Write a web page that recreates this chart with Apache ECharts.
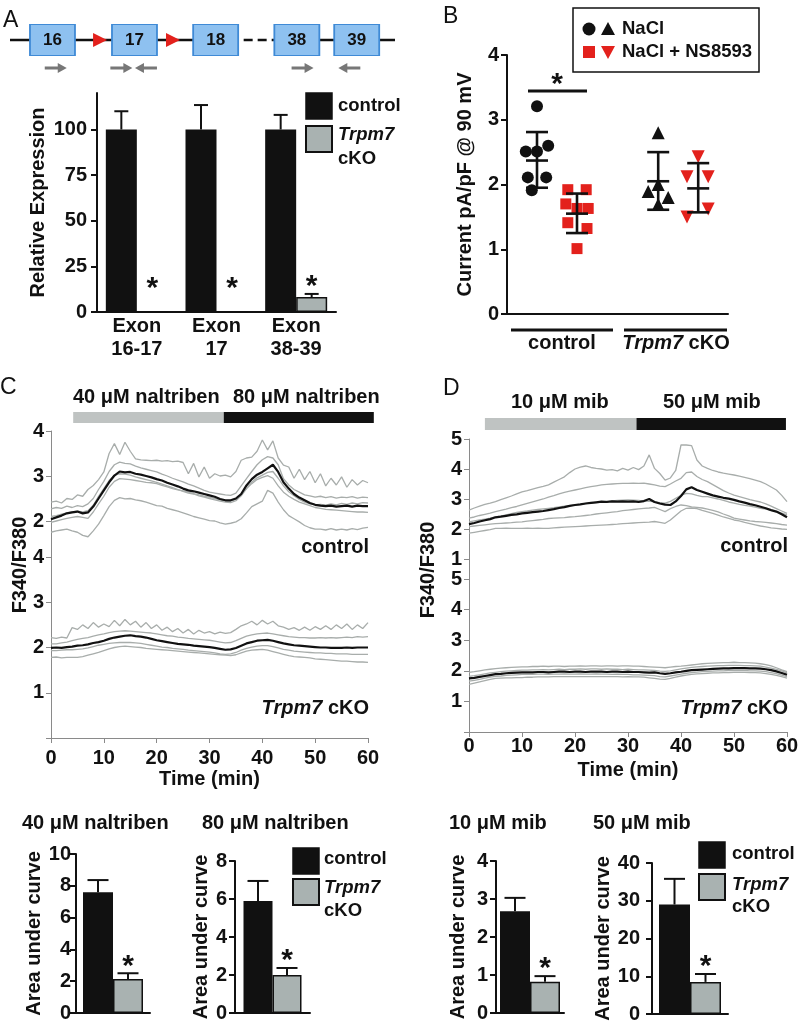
<!DOCTYPE html>
<html><head><meta charset="utf-8">
<script src="https://cdn.jsdelivr.net/npm/echarts@6.0.0/dist/echarts.min.js"></script>
<style>html,body{margin:0;padding:0;background:#fff}#c{width:800px;height:1022px}</style>
</head><body><div id="c"></div>
<script>
// ---------------- DATA ----------------
// Panel A – gene diagram (exon order along schematic)
const exonLabels = ['16', '17', '18', '38', '39'];
const exonPos = [0, 1, 1.99, 2.98, 3.71];
const loxPPos = [0.58, 1.47];
const fwdPrimerPos = [0.04, 0.84, 3.05];
const revPrimerPos = [1.14, 3.62];

// Panel A – relative expression
const exonCats = ['Exon\n16-17', 'Exon\n17', 'Exon\n38-39'];
const relExpControl = [100, 100, 100];
const relExpControlSEM = [10, 13.4, 8];
const relExpCKO = [0, 0, 8.2];
const relExpCKOSEM = [0, 0, 1.7];
const relExpTicks = [0, 25, 50, 75, 100];

// Panel B – current density (pA/pF @ 90 mV)
const bGroupCenters = [0.75, 1.75, 3.78, 4.78];
const ctrlNaCl = [3.21, 2.51, 2.51, 2.60, 2.11, 2.11, 1.91];
const ctrlNaClJitter = [0, -0.28, 0, 0.28, -0.23, 0.23, -0.13];
const ctrlNS = [1.92, 1.92, 1.70, 1.63, 1.63, 1.41, 1.32, 1.01];
const ctrlNSJitter = [-0.23, 0.23, -0.28, 0, 0.28, -0.23, 0.25, 0];
const ckoNaCl = [2.80, 1.89, 2.00, 1.80, 1.69];
const ckoNaClJitter = [0, -0.25, 0, 0.25, 0];
const ckoNS = [2.43, 2.12, 2.12, 1.50, 1.62];
const ckoNSJitter = [0, -0.28, 0.25, -0.28, 0.25];
const bMean = [2.37, 1.55, 2.05, 1.94];
const bSdHigh = [2.81, 1.86, 2.50, 2.33];
const bSdLow = [1.95, 1.25, 1.61, 1.57];

// Panels C / D – time courses (min)
const timeMin = [0,1,2,3,4,5,6,7,8,9,10,11,12,13,14,15,16,17,18,19,20,21,22,23,24,25,26,27,28,29,30,31,32,33,34,35,36,37,38,39,40,41,42,43,44,45,46,47,48,49,50,51,52,53,54,55,56,57,58,59,60];
const cTreatStart = [4.2, 32.7];
const cTreatEnd = [32.7, 61.1];
const dTreatStart = [3.0, 31.6];
const dTreatEnd = [31.6, 59.8];
const dTickValues = [1, 2, 3, 4, 5];

const cCtrlMean = [2.04,2.08,2.12,2.17,2.19,2.21,2.17,2.19,2.32,2.50, 2.68,2.86,3.01,3.10,3.08,3.09,3.05,3.03,3.00,2.97, 2.93,2.90,2.85,2.81,2.77,2.72,2.68,2.66,2.63,2.60, 2.57,2.54,2.49,2.46,2.46,2.50,2.60,2.79,2.93,3.03, 3.09,3.17,3.25,3.09,2.86,2.72,2.60,2.52,2.46,2.40, 2.36,2.34,2.33,2.34,2.32,2.33,2.34,2.32,2.34,2.33, 2.33];
const cCtrlCellA = [2.42,2.44,2.40,2.50,2.48,2.58,2.55,2.70,2.79,2.92, 3.09,3.50,3.72,3.48,3.75,3.55,3.38,3.36,3.35,3.34, 3.35,3.33,3.34,3.32,3.33,3.30,3.05,3.28,2.98,3.20, 2.95,3.05,3.00,3.02,2.98,3.10,3.35,3.40,3.42,3.55, 3.80,3.58,3.78,3.40,3.24,3.20,2.95,3.15,2.92,3.10, 2.85,3.05,2.78,2.95,2.80,2.98,2.75,2.92,2.80,2.90, 2.85];
const cCtrlCellB = [2.27,2.30,2.28,2.33,2.30,2.34,2.32,2.38,2.50,2.70, 2.88,3.10,3.25,3.31,3.28,3.27,3.22,3.18,3.15,3.12, 3.09,3.04,3.00,2.95,2.91,2.87,2.82,2.78,2.73,2.68, 2.64,2.62,2.60,2.58,2.57,2.62,2.78,2.94,3.10,3.25, 3.36,3.43,3.40,3.25,2.94,2.80,2.70,2.64,2.58,2.56, 2.53,2.55,2.52,2.54,2.51,2.53,2.52,2.54,2.51,2.53, 2.52];
const cCtrlCellC = [1.97,2.00,2.03,2.06,2.08,2.10,2.08,2.06,2.20,2.38, 2.55,2.75,2.88,2.94,2.93,2.92,2.90,2.88,2.86,2.85, 2.83,2.79,2.76,2.72,2.69,2.67,2.64,2.61,2.58,2.55, 2.53,2.50,2.47,2.45,2.44,2.48,2.58,2.72,2.83,2.92, 2.97,3.01,2.95,2.78,2.64,2.55,2.48,2.42,2.38,2.34, 2.30,2.28,2.26,2.25,2.24,2.23,2.22,2.21,2.20,2.20, 2.19];
const cCtrlCellD = [1.75,1.78,1.80,1.82,1.78,1.75,1.68,1.65,1.78,1.93, 2.12,2.32,2.46,2.52,2.49,2.50,2.47,2.45,2.42,2.38, 2.34,2.33,2.28,2.25,2.22,2.18,2.14,2.10,2.07,2.04, 2.01,2.00,1.96,1.93,1.95,1.98,2.05,2.18,2.32,2.38, 2.44,2.68,2.62,2.42,2.25,2.12,2.05,1.98,1.90,1.85, 1.82,1.82,1.80,1.83,1.80,1.82,1.80,1.83,1.81,1.84, 1.86];
const cCtrlCellE = [2.10,2.12,2.15,2.18,2.20,2.22,2.20,2.23,2.35,2.55, 2.72,2.90,3.02,3.05,3.04,3.02,2.98,2.95,2.92,2.89, 2.86,2.82,2.78,2.74,2.70,2.66,2.62,2.60,2.56,2.53, 2.50,2.47,2.44,2.42,2.41,2.45,2.56,2.72,2.86,2.96, 3.02,3.08,3.10,2.95,2.78,2.65,2.56,2.48,2.42,2.38, 2.36,2.37,2.35,2.38,2.36,2.39,2.37,2.40,2.38,2.41, 2.40];

const cKoMean = [1.99,2.00,1.99,2.01,2.02,2.04,2.05,2.07,2.10,2.12, 2.15,2.19,2.22,2.24,2.26,2.27,2.25,2.24,2.22,2.19, 2.16,2.14,2.12,2.10,2.08,2.07,2.06,2.04,2.03,2.02, 2.01,1.99,1.97,1.95,1.96,1.99,2.04,2.09,2.12,2.15, 2.16,2.17,2.15,2.12,2.09,2.07,2.05,2.04,2.03,2.02, 2.01,2.00,2.00,1.99,1.99,1.99,2.00,1.99,2.00,2.00, 2.00];
const cKoCellA = [2.22,2.20,2.23,2.21,2.44,2.40,2.50,2.42,2.55,2.45, 2.52,2.46,2.60,2.48,2.62,2.50,2.58,2.45,2.55,2.42, 2.50,2.38,2.45,2.35,2.42,2.32,2.40,2.30,2.38,2.32, 2.35,2.30,2.34,2.31,2.33,2.40,2.48,2.52,2.58,2.50, 2.60,2.52,2.58,2.48,2.45,2.40,2.44,2.38,2.45,2.38, 2.46,2.40,2.48,2.40,2.50,2.42,2.52,2.40,2.50,2.42, 2.55];
const cKoCellB = [2.08,2.08,2.10,2.12,2.15,2.18,2.20,2.22,2.25,2.28, 2.30,2.33,2.35,2.36,2.37,2.36,2.35,2.34,2.33,2.32, 2.30,2.28,2.26,2.25,2.23,2.22,2.20,2.19,2.18,2.17, 2.16,2.14,2.12,2.10,2.11,2.15,2.20,2.25,2.28,2.30, 2.31,2.32,2.30,2.28,2.26,2.24,2.23,2.22,2.22,2.21, 2.21,2.22,2.21,2.22,2.21,2.22,2.23,2.22,2.24,2.23, 2.24];
const cKoCellC = [1.93,1.93,1.94,1.95,1.95,1.96,1.97,1.99,2.02,2.05, 2.07,2.09,2.10,2.11,2.11,2.11,2.10,2.09,2.07,2.05, 2.03,2.01,2.00,1.98,1.97,1.96,1.94,1.93,1.92,1.91, 1.90,1.88,1.86,1.85,1.86,1.89,1.94,1.98,2.01,2.03, 2.04,2.04,2.02,1.99,1.96,1.94,1.92,1.91,1.90,1.89, 1.88,1.88,1.87,1.87,1.86,1.86,1.86,1.85,1.85,1.85, 1.85];
const cKoCellD = [1.78,1.79,1.77,1.78,1.78,1.78,1.80,1.83,1.86,1.89, 1.93,1.97,2.00,2.02,2.03,2.02,2.01,2.00,1.98,1.97, 1.96,1.95,1.94,1.93,1.92,1.91,1.90,1.89,1.88,1.87, 1.86,1.85,1.84,1.83,1.82,1.84,1.88,1.92,1.94,1.95, 1.96,1.94,1.91,1.88,1.85,1.82,1.80,1.79,1.78,1.77, 1.75,1.74,1.73,1.72,1.71,1.70,1.70,1.69,1.68,1.68, 1.67];

const dCtrlMean = [2.16,2.20,2.25,2.29,2.33,2.39,2.41,2.44,2.47,2.49, 2.52,2.54,2.56,2.58,2.60,2.63,2.66,2.70,2.73,2.77, 2.80,2.82,2.85,2.87,2.89,2.91,2.90,2.92,2.91,2.92, 2.91,2.92,2.90,2.93,3.00,2.90,2.85,2.81,2.80,2.92, 3.10,3.32,3.39,3.30,3.24,3.18,3.12,3.08,3.04,3.01, 2.97,2.92,2.88,2.83,2.79,2.74,2.69,2.63,2.58,2.49, 2.39];
const dCtrlCellA = [2.63,2.70,2.76,2.82,2.86,2.91,2.98,3.04,3.10,3.17, 3.24,3.28,3.33,3.38,3.42,3.47,3.56,3.65,3.74,3.88, 4.00,4.06,4.10,4.05,4.02,4.00,3.96,3.98,3.94,4.02, 3.96,4.05,3.98,4.10,4.47,4.02,3.85,3.63,3.70,3.95, 4.80,4.80,4.78,4.30,4.10,4.02,3.95,3.90,3.86,3.83, 3.80,3.76,3.72,3.68,3.63,3.58,3.50,3.40,3.30,3.12, 2.91];
const dCtrlCellB = [2.36,2.40,2.45,2.49,2.53,2.58,2.62,2.66,2.71,2.75, 2.80,2.85,2.90,2.95,3.00,3.06,3.11,3.17,3.22,3.26, 3.30,3.34,3.38,3.41,3.44,3.47,3.49,3.50,3.51,3.52, 3.52,3.53,3.52,3.53,3.50,3.47,3.43,3.41,3.50,3.60, 3.69,3.88,3.90,3.75,3.65,3.58,3.48,3.38,3.28,3.20, 3.13,3.08,3.03,2.98,2.94,2.90,2.84,2.76,2.68,2.60, 2.52];
const dCtrlCellC = [2.24,2.27,2.30,2.33,2.36,2.40,2.43,2.47,2.51,2.55, 2.58,2.60,2.63,2.65,2.67,2.69,2.71,2.74,2.76,2.78, 2.80,2.82,2.85,2.87,2.89,2.91,2.93,2.94,2.95,2.96, 2.97,2.96,2.95,2.93,2.92,2.91,2.88,2.86,2.92,3.02, 3.12,3.19,3.17,3.12,3.08,3.08,3.04,3.00,2.95,2.90, 2.86,2.82,2.79,2.76,2.73,2.69,2.66,2.62,2.58,2.53, 2.47];
const dCtrlCellD = [2.08,2.10,2.12,2.14,2.16,2.18,2.19,2.20,2.21,2.23, 2.24,2.26,2.28,2.30,2.32,2.35,2.36,2.37,2.38,2.40, 2.41,2.43,2.45,2.47,2.50,2.52,2.54,2.56,2.58,2.61, 2.63,2.65,2.67,2.69,2.70,2.72,2.65,2.58,2.68,2.75, 2.80,2.78,2.74,2.72,2.70,2.66,2.62,2.57,2.50,2.44, 2.36,2.33,2.30,2.27,2.25,2.24,2.22,2.20,2.18,2.15, 2.13];
const dCtrlCellE = [1.86,1.89,1.92,1.95,1.98,2.02,2.02,2.03,2.02,2.02, 2.02,2.03,2.02,2.03,2.02,2.02,2.04,2.05,2.06,2.07, 2.08,2.09,2.10,2.11,2.12,2.13,2.14,2.15,2.16,2.18, 2.19,2.20,2.21,2.22,2.23,2.25,2.22,2.19,2.30,2.45, 2.60,2.69,2.70,2.68,2.62,2.57,2.52,2.46,2.40,2.35, 2.30,2.27,2.22,2.18,2.14,2.10,2.07,2.04,2.02,2.00, 1.99];

const dKoMean = [1.75,1.77,1.80,1.83,1.86,1.89,1.90,1.92,1.93,1.94, 1.95,1.95,1.95,1.96,1.96,1.95,1.96,1.97,1.97,1.96, 1.97,1.97,1.96,1.97,1.97,1.97,1.96,1.97,1.97,1.96, 1.97,1.96,1.96,1.95,1.94,1.95,1.92,1.90,1.92,1.95, 1.97,2.00,2.02,2.03,2.04,2.05,2.06,2.07,2.08,2.08, 2.09,2.09,2.09,2.08,2.08,2.07,2.05,2.02,1.98,1.93, 1.87];
const dKoCellA = [1.95,1.97,2.00,2.03,2.05,2.07,2.09,2.10,2.11,2.12, 2.13,2.13,2.14,2.14,2.15,2.14,2.15,2.15,2.14,2.15, 2.15,2.16,2.15,2.16,2.16,2.15,2.16,2.16,2.15,2.16, 2.16,2.15,2.15,2.14,2.13,2.12,2.11,2.10,2.12,2.14, 2.15,2.17,2.19,2.21,2.23,2.24,2.25,2.26,2.27,2.27, 2.28,2.27,2.27,2.26,2.25,2.23,2.20,2.16,2.10,2.03, 1.97];
const dKoCellB = [1.82,1.84,1.87,1.90,1.93,1.95,1.97,1.99,2.00,2.01, 2.02,2.02,2.03,2.03,2.04,2.03,2.04,2.05,2.04,2.05, 2.05,2.06,2.05,2.06,2.06,2.05,2.06,2.05,2.05,2.04, 2.05,2.04,2.03,2.03,2.02,2.01,1.99,1.98,2.00,2.03, 2.06,2.09,2.11,2.13,2.14,2.15,2.16,2.17,2.17,2.18, 2.18,2.18,2.17,2.17,2.16,2.15,2.12,2.09,2.05,2.00, 1.93];
const dKoCellC = [1.66,1.69,1.72,1.76,1.79,1.82,1.83,1.85,1.86,1.87, 1.88,1.88,1.88,1.89,1.89,1.88,1.89,1.89,1.90,1.89, 1.89,1.90,1.89,1.89,1.90,1.89,1.89,1.88,1.89,1.88, 1.88,1.87,1.87,1.86,1.85,1.84,1.81,1.80,1.83,1.86, 1.89,1.92,1.94,1.96,1.97,1.98,1.99,2.00,2.00,2.01, 2.01,2.01,2.01,2.00,2.00,1.99,1.97,1.94,1.91,1.86, 1.81];
const dKoCellD = [1.56,1.60,1.64,1.68,1.72,1.75,1.76,1.77,1.77,1.78, 1.78,1.79,1.79,1.80,1.80,1.80,1.81,1.81,1.81,1.81, 1.81,1.81,1.81,1.81,1.81,1.81,1.81,1.81,1.81,1.80, 1.81,1.80,1.80,1.79,1.77,1.75,1.73,1.72,1.75,1.79, 1.83,1.86,1.88,1.90,1.91,1.92,1.93,1.93,1.94,1.94, 1.95,1.95,1.95,1.94,1.94,1.93,1.91,1.88,1.85,1.81, 1.76];

// Bottom – area under curve
const aucControl = [7.6, 5.9, 2.68, 29.0];
const aucControlSEM = [0.76, 1.05, 0.35, 6.8];
const aucCKO = [2.14, 2.0, 0.82, 8.5];
const aucCKOSEM = [0.36, 0.37, 0.15, 2.1];

// ---------------- STYLE ----------------
const FONT = '"Liberation Sans", Arial, Helvetica, sans-serif';
const INK = '#111111';
const BAR_GRAY = '#a9b2b1';
const TRACE_GRAY = '#a8adab';
const HDR_GRAY = '#bfc3c2';
const RED = '#e3211c';
const BLUE_FILL = '#8ec1f0';
const BLUE_EDGE = '#3f8ad6';
const AX_GRAY = '#8a8a8a';
const STAR_DY = 7;
const ARROW = 'path://M0,3.5L13,3.5L13,0L22,5L13,10L13,6.5L0,6.5Z';

const tickFont = { fontFamily: FONT, fontWeight: 'bold', fontSize: 20, color: INK };
const nameFont = { fontFamily: FONT, fontWeight: 'bold', fontSize: 20, color: INK };

const chart = echarts.init(document.getElementById('c'), null, { renderer: 'canvas' });

function hiddenX(gi, min, max) { return { gridIndex: gi, type: 'value', min, max, show: false }; }
function hiddenY(gi, min, max) { return { gridIndex: gi, type: 'value', min, max, show: false }; }

function traceY(gi, min, max, shown, labelsOff) {
  const y = { gridIndex: gi, type: 'value', min, max,
    axisLine: { show: true, onZero: false, lineStyle: { color: AX_GRAY, width: 1 } },
    axisTick: { show: true, length: 5, lineStyle: { color: AX_GRAY } },
    axisLabel: Object.assign({ show: !labelsOff, margin: 7,
      formatter: v => (shown.indexOf(Math.round(v * 1000) / 1000) >= 0 ? String(v) : '') }, tickFont),
    splitLine: { show: false } };
  if (Number.isInteger(min)) y.interval = 1;
  else { y.axisTick.customValues = shown; y.axisLabel.customValues = shown; }
  return y;
}
function timeX(gi, margin, nameGap) {
  return { gridIndex: gi, type: 'value', min: 0, max: 60, interval: 10,
    axisLine: { show: true, onZero: false, lineStyle: { color: AX_GRAY, width: 1 } },
    axisTick: { show: true, length: 5, lineStyle: { color: AX_GRAY } },
    axisLabel: Object.assign({ margin }, tickFont),
    splitLine: { show: false },
    name: 'Time (min)', nameLocation: 'middle', nameGap, nameTextStyle: nameFont };
}
function barX(gi, data, labelOpts) {
  return { gridIndex: gi, type: 'category', data,
    axisLine: { show: true, lineStyle: { color: INK, width: 2 } },
    axisTick: { show: false },
    axisLabel: labelOpts ? Object.assign({}, tickFont, labelOpts) : { show: false },
    splitLine: { show: false } };
}
function barY(gi, min, max, interval, margin, name, nameGap, custom) {
  const y = { gridIndex: gi, type: 'value', min, max,
    axisLine: { show: true, lineStyle: { color: INK, width: 2 } },
    axisTick: { show: true, length: 6, lineStyle: { color: INK, width: 2 } },
    axisLabel: Object.assign({ margin }, tickFont),
    splitLine: { show: false },
    name, nameLocation: 'middle', nameGap, nameTextStyle: nameFont };
  if (custom) { y.axisTick.customValues = custom; y.axisLabel.customValues = custom; }
  else y.interval = interval;
  return y;
}

function traceSeries(gi, vals, mean) {
  return { type: 'line', xAxisIndex: gi, yAxisIndex: gi, silent: true,
    data: vals.map((v, i) => [timeMin[i], v]), symbol: 'none', showSymbol: false,
    lineStyle: { color: mean ? INK : TRACE_GRAY, width: mean ? 2.2 : 1.3 }, z: mean ? 4 : 2 };
}

function errSeries(gi, vals, sems, side, bw, capW, star) {
  return { type: 'custom', xAxisIndex: gi, yAxisIndex: gi, z: 5, silent: true,
    data: vals.map((v, i) => [i, v, sems[i]]),
    renderItem(params, api) {
      const i = api.value(0), v = api.value(1), s = api.value(2);
      const base = api.coord([i, 0]);
      const top = api.coord([i, v]);
      const et = api.coord([i, v + s]);
      const x = base[0] + side * bw / 2;
      const kids = [];
      if (s > 0) {
        kids.push({ type: 'line', shape: { x1: x, y1: top[1], x2: x, y2: et[1] }, style: { stroke: INK, lineWidth: 2 } });
        kids.push({ type: 'line', shape: { x1: x - capW / 2, y1: et[1], x2: x + capW / 2, y2: et[1] }, style: { stroke: INK, lineWidth: 2 } });
      }
      if (star) kids.push({ type: 'text', x: x, y: Math.min(et[1] - 14, base[1] - 30) + STAR_DY,
        style: { text: '*', fontSize: 30, fontWeight: 'bold', fontFamily: FONT, fill: INK, align: 'center', verticalAlign: 'middle' } });
      return { type: 'group', children: kids };
    } };
}

function barPanel(gi, ctrl, ctrlSem, cko, ckoSem, bw, capW) {
  return [
    { type: 'bar', xAxisIndex: gi, yAxisIndex: gi, data: ctrl, barWidth: bw, barGap: '0%', silent: true, itemStyle: { color: INK }, z: 2 },
    { type: 'bar', xAxisIndex: gi, yAxisIndex: gi, data: cko, barWidth: bw, barGap: '0%', silent: true, itemStyle: { color: BAR_GRAY, borderColor: INK, borderWidth: 1.5 }, z: 2 },
    errSeries(gi, ctrl, ctrlSem, -1, bw, capW, false),
    errSeries(gi, cko, ckoSem, 1, bw, capW, true)
  ];
}

function headerSeries(gi, starts, ends) {
  const cols = [HDR_GRAY, INK];
  return { type: 'custom', xAxisIndex: gi, yAxisIndex: gi, silent: true,
    data: starts.map((s, i) => [s, ends[i], i]),
    renderItem(params, api) {
      const a = api.coord([api.value(0), 1]);
      const b = api.coord([api.value(1), 0]);
      return { type: 'rect', shape: { x: a[0], y: a[1], width: b[0] - a[0], height: b[1] - a[1] }, style: { fill: cols[api.value(2)] } };
    } };
}

function bErr() {
  return { type: 'custom', xAxisIndex: 2, yAxisIndex: 2, z: 6, silent: true,
    data: bGroupCenters.map((c, i) => [c, bMean[i], bSdHigh[i], bSdLow[i]]),
    renderItem(params, api) {
      const m = api.coord([api.value(0), api.value(1)]);
      const h = api.coord([api.value(0), api.value(2)]);
      const l = api.coord([api.value(0), api.value(3)]);
      const hw = 11, st = { stroke: INK, lineWidth: 2.6 };
      return { type: 'group', children: [
        { type: 'line', shape: { x1: m[0], y1: h[1], x2: m[0], y2: l[1] }, style: st },
        { type: 'line', shape: { x1: m[0] - hw, y1: h[1], x2: m[0] + hw, y2: h[1] }, style: st },
        { type: 'line', shape: { x1: m[0] - hw, y1: m[1], x2: m[0] + hw, y2: m[1] }, style: st },
        { type: 'line', shape: { x1: m[0] - hw, y1: l[1], x2: m[0] + hw, y2: l[1] }, style: st }
      ] };
    } };
}

function bPoints(vals, jit, gIdx, symbol, size, color, rot) {
  return { type: 'scatter', xAxisIndex: 2, yAxisIndex: 2, silent: true, symbol, symbolSize: size, symbolRotate: rot || 0,
    itemStyle: { color, opacity: 1 }, z: 4,
    data: vals.map((v, i) => [bGroupCenters[gIdx] + jit[i], v]) };
}

// ---------------- ANNOTATIONS ----------------
function T(x, y, text, o) {
  return { type: 'text', x, y, silent: true, z: 100,
    style: Object.assign({ text, fontFamily: FONT, fontWeight: 'bold', fontSize: 20, fill: INK, align: 'left', verticalAlign: 'middle' }, o || {}) };
}
const ital = { i: { fontStyle: 'italic', fontWeight: 'bold', fontSize: 20, fontFamily: FONT, fill: INK } };
function R(x, y, w, h, fill, lw) {
  return { type: 'rect', silent: true, z: 100, shape: { x, y, width: w, height: h }, style: { fill, stroke: INK, lineWidth: lw } };
}
function L(x1, y1, x2, y2, lw) {
  return { type: 'line', silent: true, z: 100, shape: { x1, y1, x2, y2 }, style: { stroke: INK, lineWidth: lw } };
}
function legend(x, y1, y2, tx, ty) {
  return [
    R(x, y1, 26, 26, INK, 1.5), R(x, y2, 26, 26, BAR_GRAY, 2),
    T(tx, ty[0], 'control', { fontSize: 18.5 }),
    T(tx, ty[1], 'Trpm7', { fontSize: 18.5, fontStyle: 'italic' }),
    T(tx, ty[2], 'cKO', { fontSize: 18.5 })
  ];
}
const letter = { fontWeight: 'normal', fontSize: 23 };
const graphics = [].concat(
  [T(3, 21, 'A', letter), T(443, 17, 'B', letter), T(0, 388, 'C', letter), T(443, 389, 'D', letter)],
  legend(306, 93, 126, 338, [106, 135, 159]),
  [R(573, 8, 186, 64, 'transparent', 1.5),
   { type: 'circle', silent: true, z: 100, shape: { cx: 589, cy: 29, r: 6.5 }, style: { fill: INK } },
   { type: 'polygon', silent: true, z: 100, shape: { points: [[608, 22], [601, 35], [615, 35]] }, style: { fill: INK } },
   T(622, 29, 'NaCl', { fontSize: 18.5 }),
   { type: 'rect', silent: true, z: 100, shape: { x: 583, y: 46, width: 12, height: 12 }, style: { fill: RED } },
   { type: 'polygon', silent: true, z: 100, shape: { points: [[601, 46], [615, 46], [608, 59]] }, style: { fill: RED } },
   T(622, 52, 'NaCl + NS8593', { fontSize: 18.5 }),
   L(528, 91, 587, 91, 3), T(557, 78 + STAR_DY, '*', { fontSize: 30, align: 'center' }),
   L(511, 330, 613, 330, 3), L(624, 330, 727, 330, 3),
   T(562, 343, 'control', { align: 'center' }),
   T(676, 343, '{i|Trpm7} cKO', { align: 'center', rich: ital })],
  [T(73, 397, '40 μM naltriben'), T(233, 397, '80 μM naltriben'),
   T(369, 547, 'control', { align: 'right' }),
   T(369, 708, '{i|Trpm7} cKO', { align: 'right', rich: ital }),
   Object.assign(T(20, 565, 'F340/F380', { align: 'center' }), { rotation: Math.PI / 2 })],
  [T(511, 402, '10 μM mib'), T(663, 402, '50 μM mib'),
   T(788, 546, 'control', { align: 'right' }),
   T(788, 708, '{i|Trpm7} cKO', { align: 'right', rich: ital }),
   Object.assign(T(428, 570, 'F340/F380', { align: 'center' }), { rotation: Math.PI / 2 })],
  [T(22, 823, '40 μM naltriben'), T(202, 823, '80 μM naltriben'), T(449, 823, '10 μM mib'), T(593, 823, '50 μM mib')],
  legend(293, 848, 879, 324, [859, 888, 911]),
  legend(699, 842, 874, 732, [854, 885, 907])
);

// ---------------- OPTION ----------------
const grids = [
  { left: 10, top: 26, width: 385, height: 56 },
  { left: 97, top: 93, width: 239, height: 219 },
  { left: 507, top: 55, width: 221, height: 259 },
  { left: 51, top: 412, width: 317, height: 11 },
  { left: 51, top: 431, width: 317, height: 126 },
  { left: 51, top: 557, width: 317, height: 181 },
  { left: 469, top: 418, width: 318, height: 12 },
  { left: 469, top: 439, width: 318, height: 140 },
  { left: 469, top: 579, width: 318, height: 153 },
  { left: 76, top: 854, width: 74, height: 159 },
  { left: 235, top: 861, width: 75, height: 152 },
  { left: 496, top: 861, width: 68, height: 152 },
  { left: 652, top: 863, width: 76, height: 151 }
].map(g => Object.assign({ containLabel: false, outerBoundsMode: 'none' }, g));

const option = {
  animation: false,
  backgroundColor: '#ffffff',
  textStyle: { fontFamily: FONT },
  grid: grids,
  xAxis: [
    hiddenX(0, -0.518, 4.177),
    barX(1, exonCats, { lineHeight: 23, margin: 3, interval: 0 }),
    { gridIndex: 2, type: 'value', min: 0, max: 5.525, axisLine: { show: true, onZero: false, lineStyle: { color: INK, width: 2 } }, axisTick: { show: false }, axisLabel: { show: false }, splitLine: { show: false } },
    hiddenX(3, 0, 60), hiddenX(4, 0, 60), timeX(5, 10, 31),
    hiddenX(6, 0, 60), hiddenX(7, 0, 60), timeX(8, 4, 28),
    barX(9, ['AUC']), barX(10, ['AUC']), barX(11, ['AUC']), barX(12, ['AUC'])
  ],
  yAxis: [
    { gridIndex: 0, type: 'category', data: ['gene', 'primer'], inverse: true, show: false },
    barY(1, 0, 120, null, 10, 'Relative Expression', 49, relExpTicks),
    barY(2, 0, 4, 1, 8, 'Current pA/pF @ 90 mV', 32),
    hiddenY(3, 0, 1),
    traceY(4, 1.2, 4, [2, 3, 4]),
    traceY(5, 0, 4, [1, 2, 3, 4]),
    hiddenY(6, 0, 1),
    traceY(7, 0.333, 5, dTickValues, true),
    traceY(8, 0, 5, dTickValues, true),
    barY(9, 0, 10, 2, 5, 'Area under curve', 28),
    barY(10, 0, 8, 2, 8, 'Area under curve', 21),
    barY(11, 0, 4, 1, 8, 'Area under curve', 28),
    barY(12, 0, 40, 10, 12, 'Area under curve', 38)
  ],
  series: [].concat(
    [
      { type: 'line', xAxisIndex: 0, yAxisIndex: 0, silent: true, symbol: 'none', data: [[-0.518, 'gene'], [exonPos[2], 'gene']], lineStyle: { color: INK, width: 2.5 }, z: 1 },
      { type: 'line', xAxisIndex: 0, yAxisIndex: 0, silent: true, symbol: 'none', data: [[exonPos[2], 'gene'], [exonPos[3], 'gene']], lineStyle: { color: INK, width: 2.5, type: [9, 5] }, z: 1 },
      { type: 'line', xAxisIndex: 0, yAxisIndex: 0, silent: true, symbol: 'none', data: [[exonPos[3], 'gene'], [4.177, 'gene']], lineStyle: { color: INK, width: 2.5 }, z: 1 },
      { type: 'scatter', xAxisIndex: 0, yAxisIndex: 0, silent: true, symbol: 'rect', symbolSize: [45, 31], z: 3,
        itemStyle: { color: BLUE_FILL, borderColor: BLUE_EDGE, borderWidth: 1.5, opacity: 1 },
        label: { show: true, position: 'inside', formatter: p => p.value[2], fontFamily: FONT, fontWeight: 'bold', fontSize: 17, color: INK },
        data: exonPos.map((x, i) => [x, 'gene', exonLabels[i]]) },
      { type: 'scatter', xAxisIndex: 0, yAxisIndex: 0, silent: true, symbol: 'triangle', symbolRotate: -90, symbolSize: 14, itemStyle: { color: RED, opacity: 1 }, z: 4,
        data: loxPPos.map(x => [x, 'gene']) },
      { type: 'scatter', xAxisIndex: 0, yAxisIndex: 0, silent: true, symbol: ARROW, symbolSize: [22, 10], itemStyle: { color: '#777777', opacity: 1 },
        data: fwdPrimerPos.map(x => [x, 'primer']) },
      { type: 'scatter', xAxisIndex: 0, yAxisIndex: 0, silent: true, symbol: ARROW, symbolRotate: 180, symbolSize: [22, 10], itemStyle: { color: '#777777', opacity: 1 },
        data: revPrimerPos.map(x => [x, 'primer']) }
    ],
    barPanel(1, relExpControl, relExpControlSEM, relExpCKO, relExpCKOSEM, 31, 14),
    [
      bPoints(ctrlNaCl, ctrlNaClJitter, 0, 'circle', 12, INK),
      bPoints(ctrlNS, ctrlNSJitter, 1, 'rect', 11, RED),
      bPoints(ckoNaCl, ckoNaClJitter, 2, 'triangle', 13, INK),
      bPoints(ckoNS, ckoNSJitter, 3, 'triangle', 13, RED, 180),
      bErr()
    ],
    [headerSeries(3, cTreatStart, cTreatEnd), headerSeries(6, dTreatStart, dTreatEnd)],
    [cCtrlCellA, cCtrlCellB, cCtrlCellC, cCtrlCellD, cCtrlCellE].map(v => traceSeries(4, v, false)),
    [traceSeries(4, cCtrlMean, true)],
    [cKoCellA, cKoCellB, cKoCellC, cKoCellD].map(v => traceSeries(5, v, false)),
    [traceSeries(5, cKoMean, true)],
    [dCtrlCellA, dCtrlCellB, dCtrlCellC, dCtrlCellD, dCtrlCellE].map(v => traceSeries(7, v, false)),
    [traceSeries(7, dCtrlMean, true)],
    [dKoCellA, dKoCellB, dKoCellC, dKoCellD].map(v => traceSeries(8, v, false)),
    [traceSeries(8, dKoMean, true)],
    barPanel(9, [aucControl[0]], [aucControlSEM[0]], [aucCKO[0]], [aucCKOSEM[0]], 30, 21),
    barPanel(10, [aucControl[1]], [aucControlSEM[1]], [aucCKO[1]], [aucCKOSEM[1]], 29, 21),
    barPanel(11, [aucControl[2]], [aucControlSEM[2]], [aucCKO[2]], [aucCKOSEM[2]], 30, 21),
    barPanel(12, [aucControl[3]], [aucControlSEM[3]], [aucCKO[3]], [aucCKOSEM[3]], 31, 21)
  ),
  graphic: { elements: graphics }
};
chart.setOption(option);

// Panel D tick labels, placed through the axes' own scales, on a top layer
const dLabels = [];
[7, 8].forEach(ai => dTickValues.forEach(v => {
  const py = chart.convertToPixel({ yAxisIndex: ai }, v);
  dLabels.push(Object.assign(T(grids[ai].left - 7, py, String(v), { align: 'right' }), { zlevel: 2, z: 200 }));
}));
chart.setOption({ graphic: { elements: graphics.concat(dLabels) } });
</script></body></html>
